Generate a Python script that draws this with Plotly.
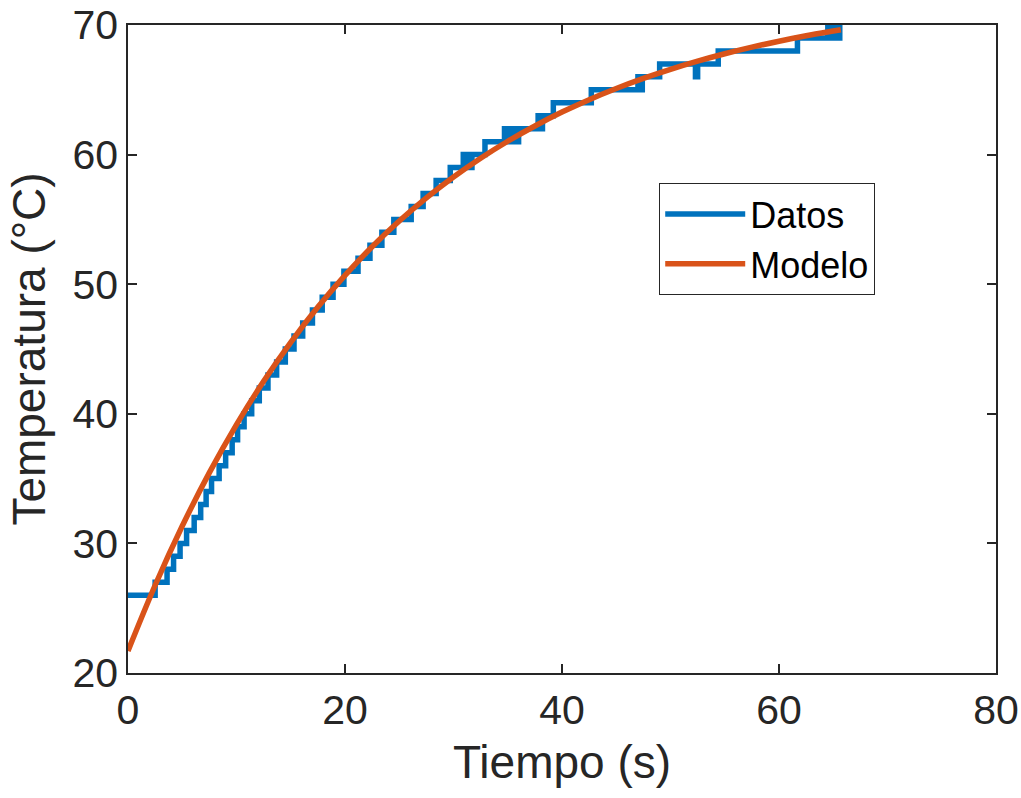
import plotly.graph_objects as go

# ---- Data ----
t_datos = [0, 2.5, 3.6, 4.2, 4.8, 5.4, 6.1, 6.7, 7.2, 7.7, 8.4, 9.0, 9.6, 10.1, 10.7,
           11.4, 12.1, 12.9, 13.7, 14.5, 15.3, 16.1, 17.0, 17.9, 18.9, 19.9, 21.2,
           22.3, 23.4, 24.5, 26.1, 27.2, 28.4, 29.7, 30.9, 31.1, 31.3, 31.5, 31.7,
           32.9, 34.7, 34.9, 35.1, 35.3, 35.5, 35.8, 36.0, 37.8, 38.0, 38.2, 39.2,
           42.7, 47.0, 47.2, 47.4, 49.0, 52.3, 52.5, 54.4, 61.7, 64.5, 64.7, 64.9,
           65.1, 65.3, 65.5, 65.6, 65.8]
T_datos = [26, 27, 28, 29, 30, 31, 32, 33, 34, 35, 36, 37, 38, 39, 40,
           41, 42, 43, 44, 45, 46, 47, 48, 49, 50, 51, 52,
           53, 54, 55, 56, 57, 58, 59, 60, 59, 60, 59, 60,
           61, 62, 61, 62, 61, 62, 61, 62, 63, 62, 63, 64,
           65, 66, 65, 66, 67, 66, 67, 68, 69, 70, 69, 70,
           69, 70, 69, 70, 70]

t_modelo = [0, 2.5, 5, 7.5, 10, 12.5, 15, 17.5, 20, 22.5, 25, 27.5, 30, 32.5,
            35, 37.5, 40, 42.5, 45, 47.5, 50, 52.5, 55, 57.5, 60, 62.5, 65, 65.7]
T_modelo = [21.70, 26.77, 31.34, 35.46, 39.17, 42.51, 45.52, 48.24, 50.68, 52.89,
            54.87, 56.66, 58.27, 59.72, 61.03, 62.21, 63.28, 64.24, 65.10, 65.88,
            66.58, 67.21, 67.78, 68.29, 68.75, 69.17, 69.54, 69.64]

x_ticks = [0, 20, 40, 60, 80]
y_ticks = [20, 30, 40, 50, 60, 70]

FONT = "Liberation Sans, Arial, Helvetica, sans-serif"
AX = "#262626"

fig = go.Figure()
fig.add_trace(go.Scatter(x=t_datos, y=T_datos, mode="lines", name="Datos",
                         line=dict(color="#0072BD", width=5.5, shape="hv")))
fig.add_trace(go.Scatter(x=t_modelo, y=T_modelo, mode="lines", name="Modelo",
                         line=dict(color="#D95319", width=5.5, shape="spline")))

axis_common = dict(showline=True, linecolor=AX, linewidth=1.5, mirror="ticks",
                   ticks="inside", ticklen=9, tickwidth=1.5, tickcolor=AX,
                   showgrid=False, zeroline=False, automargin=False,
                   tickfont=dict(family=FONT, size=41, color=AX))

fig.update_layout(
    width=1021, height=798,
    margin=dict(l=128, r=25, t=25, b=125),
    paper_bgcolor="white", plot_bgcolor="white",
    font=dict(family=FONT, color=AX),
    xaxis=dict(range=[0, 80], tickvals=x_ticks,
               title=dict(text="Tiempo (s)", font=dict(family=FONT, size=46, color=AX), standoff=14),
               **axis_common),
    yaxis=dict(range=[20, 70], tickvals=y_ticks,
               title=dict(text="Temperatura (°C)", font=dict(family=FONT, size=46, color=AX), standoff=12),
               **axis_common),
    legend=dict(x=0.612, y=0.756, xanchor="left", yanchor="top",
                bgcolor="white", bordercolor=AX, borderwidth=1,
                font=dict(family=FONT, size=36, color="black"),
                itemwidth=80, tracegroupgap=0),
    showlegend=True,
)

fig.write_html("out.html")
